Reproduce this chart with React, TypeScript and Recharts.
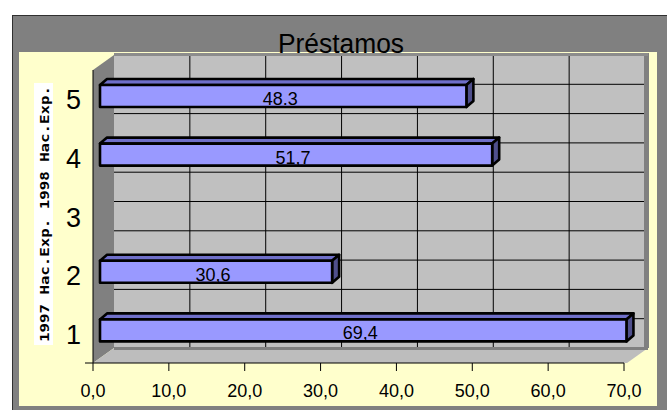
import { BarChart, Bar, XAxis, YAxis, CartesianGrid, ReferenceArea, LabelList } from "recharts";

const categories = ["1", "2", "3", "4", "5"];
const values = [69.4, 30.6, null, 51.7, 48.3];
const valueLabels = ["69,4", "30,6", "", "51,7", "48.3"];
const xTicks = [0, 10, 20, 30, 40, 50, 60, 70];
const chartTitle = "Préstamos";
const axisTitle = "1997 Hac.Exp. 1998 Hac.Exp.";

const data = categories.map((cat, i) => ({ cat, value: values[i], label: valueLabels[i] }));

const FONT = "'Liberation Sans', Arial, sans-serif";

// 3D look: plot area is the back wall, front plane sits DX left / DY down
const DX = 21;
const DY = 15;
const BAR_DX = -14;
const BAR_DY = 12;
const BAR_DEPTH_X = 7;
const BAR_DEPTH_Y = 6;

const toPx = (scale: any, v: any) => (typeof scale === "function" ? scale(v) : scale.map(v));

function Bar3D(props: any) {
  const { x, y, width, height } = props;
  if (!width || width <= 0) return null;
  const fx = x + BAR_DX;
  const fy = y + BAR_DY;
  const dx = BAR_DEPTH_X;
  const dy = BAR_DEPTH_Y;
  return (
    <g stroke="#000" strokeWidth={2.6} strokeLinejoin="round">
      <polygon
        points={`${fx},${fy} ${fx + dx},${fy - dy} ${fx + width + dx},${fy - dy} ${fx + width},${fy}`}
        fill="#6F6FC9"
      />
      <polygon
        points={`${fx + width},${fy} ${fx + width + dx},${fy - dy} ${fx + width + dx},${fy + height - dy} ${fx + width},${fy + height}`}
        fill="#4F4F8C"
      />
      <rect x={fx} y={fy} width={width} height={height} fill="#9999FF" />
    </g>
  );
}

function BarLabel(props: any) {
  const { x, y, width, value } = props;
  if (!value) return null;
  return (
    <text
      x={x + BAR_DX + width / 2 - 3}
      y={y + BAR_DY + 20}
      textAnchor="middle"
      fontSize={18}
      fontFamily={FONT}
      fill="#000"
    >
      {value}
    </text>
  );
}

function Walls(props: any) {
  const { x, y, width: w, height: h } = props;
  const fy = y + h + DY;
  return (
    <g>
      <polygon points={`${x - DX},${y + DY} ${x},${y} ${x},${y + h} ${x - DX},${fy}`} fill="#808080" />
      <polygon
        points={`${x - DX},${fy} ${x},${y + h} ${x + w + 3},${y + h} ${x + w + 3 - DX},${fy}`}
        fill="#BDBDBD"
      />
      <rect x={x} y={y + h - 1} width={w + 3} height={3} fill="#808080" />
      <rect x={x + w - 1} y={y - 2} width={5} height={h + 2} fill="#808080" />
      <rect x={x} y={y - 2} width={w + 3} height={3} fill="#8C8C8C" />
      <line x1={x - DX} y1={y + DY} x2={x - DX} y2={fy} stroke="#000" strokeWidth={1} />
      <line x1={x - DX - 8} y1={fy} x2={x + w - DX} y2={fy} stroke="#000" strokeWidth={1} />
    </g>
  );
}

function XTick(props: any) {
  const { x, y, payload } = props;
  const fx = x - DX;
  const fy = y + DY;
  return (
    <g>
      <line x1={fx} y1={fy} x2={fx} y2={fy + 8} stroke="#000" />
      <text x={fx} y={fy + 34} textAnchor="middle" fontSize={18} fontFamily={FONT} fill="#000">
        {payload.value.toFixed(1).replace(".", ",")}
      </text>
    </g>
  );
}

function YTick(props: any) {
  const { x, y, payload } = props;
  return (
    <text x={x - 33} y={y + DY + 10} textAnchor="end" fontSize={27} fontFamily={FONT} fill="#000">
      {payload.value}
    </text>
  );
}

const verticalLines = ({ xAxis, offset }: any) => {
  const inner = xTicks.slice(1, -1);
  if (xAxis && xAxis.scale) return inner.map((v) => toPx(xAxis.scale, v));
  return inner.map((v) => offset.left + (offset.width * v) / 70);
};

// lines at every category centre and boundary
const horizontalLines = ({ offset }: any) => {
  const n = categories.length * 2;
  const out: number[] = [];
  for (let k = 1; k < n; k++) out.push(offset.top + (offset.height * k) / n);
  return out;
};

export default function App() {
  return (
    <div style={{ position: "absolute", left: 0, top: 0, width: 667, height: 410 }}>
      <svg width={667} height={410} style={{ position: "absolute", left: 0, top: 0 }}>
        <rect x={0} y={0} width={667} height={410} fill="#fff" />
        <rect x={12.5} y={15.5} width={660} height={400} fill="#808080" stroke="#303030" />
        <rect x={19} y={52} width={638} height={354} fill="#FFFFCC" />
        <text
          x={341}
          y={52.5}
          textAnchor="middle"
          fontSize={27}
          fontFamily={FONT}
          textLength={126}
          lengthAdjust="spacingAndGlyphs"
          fill="#000"
        >
          {chartTitle}
        </text>
        <rect x={34} y={83} width={19} height={262} fill="#fff" />
        <text
          transform="translate(44,214) rotate(-90)"
          textAnchor="middle"
          dominantBaseline="central"
          fontSize={13}
          fontWeight="bold"
          fontFamily="'DejaVu Sans Mono', monospace"
          textLength={256}
          lengthAdjust="spacingAndGlyphs"
          fill="#000"
        >
          {axisTitle}
        </text>
      </svg>
      <div style={{ position: "absolute", left: 0, top: 0 }}>
        <BarChart
          width={667}
          height={410}
          data={data}
          layout="vertical"
          margin={{ top: 55, right: 22, bottom: 22, left: 54 }}
        >
          <CartesianGrid
            fill="#C0C0C0"
            fillOpacity={1}
            stroke="#000"
            strokeWidth={1}
            verticalCoordinatesGenerator={verticalLines}
            horizontalCoordinatesGenerator={horizontalLines}
          />
          <XAxis
            type="number"
            domain={[0, 70]}
            ticks={xTicks}
            interval={0}
            height={40}
            tickSize={0}
            tickMargin={0}
            axisLine={false}
            tickLine={false}
            tick={<XTick />}
          />
          <YAxis
            type="category"
            dataKey="cat"
            reversed
            width={60}
            interval={0}
            tickSize={0}
            tickMargin={0}
            axisLine={false}
            tickLine={false}
            tick={<YTick />}
          />
          <ReferenceArea x1={0} x2={70} ifOverflow="visible" shape={(p: any) => <Walls {...p} />} />
          <Bar dataKey="value" barSize={22} shape={(p: any) => <Bar3D {...p} />} isAnimationActive={false}>
            <LabelList dataKey="label" content={(p: any) => <BarLabel {...p} />} />
          </Bar>
        </BarChart>
      </div>
    </div>
  );
}
